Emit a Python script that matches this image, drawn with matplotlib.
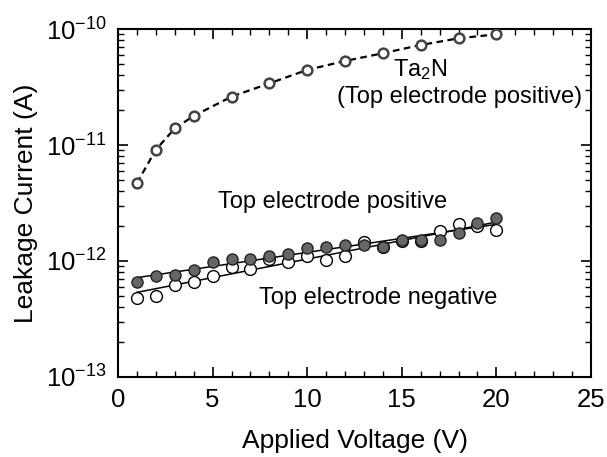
import numpy as np
import matplotlib
matplotlib.use("Agg")
import matplotlib.pyplot as plt
from matplotlib.ticker import MultipleLocator, FixedLocator, NullFormatter

plt.rcParams['font.family'] = ['Liberation Sans', 'DejaVu Sans']
plt.rcParams['mathtext.fontset'] = 'custom'
plt.rcParams['mathtext.rm'] = 'Liberation Sans'
plt.rcParams['mathtext.it'] = 'Liberation Sans:italic'
plt.rcParams['mathtext.bf'] = 'Liberation Sans:bold'

# Ta2N (top electrode positive)
ta2n_v = [1, 2, 3, 4, 6, 8, 10, 12, 14, 16, 18, 20]
ta2n_i = [4.7e-12, 9.1e-12, 1.39e-11, 1.78e-11, 2.61e-11, 3.40e-11,
          4.44e-11, 5.30e-11, 6.18e-11, 7.28e-11, 8.31e-11, 9.0e-11]

# Top electrode positive (filled) / negative (open)
volts = list(range(1, 21))
pos_i = [6.63e-13, 7.43e-13, 7.57e-13, 8.36e-13, 9.75e-13, 1.035e-12, 1.035e-12,
         1.10e-12, 1.15e-12, 1.285e-12, 1.31e-12, 1.37e-12, 1.38e-12, 1.32e-12,
         1.53e-12, 1.52e-12, 1.52e-12, 1.75e-12, 2.11e-12, 2.37e-12]
neg_i = [4.84e-13, 5.04e-13, 6.27e-13, 6.63e-13, 7.43e-13, 8.79e-13, 8.61e-13,
         1.05e-12, 9.86e-13, 1.10e-12, 1.02e-12, 1.10e-12, 1.47e-12, 1.32e-12,
         1.50e-12, 1.50e-12, 1.82e-12, 2.10e-12, 2.0e-12, 1.86e-12]

y_major = [1e-13, 1e-12, 1e-11, 1e-10]
y_labels = [r'10$^{\mathdefault{-13}}$', r'10$^{\mathdefault{-12}}$',
            r'10$^{\mathdefault{-11}}$', r'10$^{\mathdefault{-10}}$']

W, H = 607, 457
fig = plt.figure(figsize=(W / 100, H / 100), dpi=100)
ax = fig.add_axes([118 / W, 1 - 377 / H, (591 - 118) / W, (377 - 29) / H])

v = np.array(volts, dtype=float)
for data in (pos_i, neg_i):
    c = np.polyfit(v, np.log10(data), 1)
    ax.plot(v, 10 ** np.polyval(c, v), color='black', lw=1.1, zorder=2)

ax.plot(ta2n_v, ta2n_i, ls=(0, (3, 2)), color='black', lw=1.6, zorder=2)
ax.plot(ta2n_v, ta2n_i, 'o', ms=7, mfc='white', mec='#444444', mew=1.8, zorder=3)

ax.plot(volts, neg_i, 'o', ms=8.5, mfc='white', mec='black', mew=1.0, zorder=3)
ax.plot(volts, pos_i, 'o', ms=8.0, mfc='#666666', mec='#222222', mew=1.0, zorder=4)

ax.set_yscale('log')
ax.set_xlim(0, 25)
ax.set_ylim(1e-13, 1e-10)
ax.xaxis.set_major_locator(MultipleLocator(5))
ax.xaxis.set_minor_locator(MultipleLocator(1))
minor_vals = [m * d for d in (1e-13, 1e-12, 1e-11) for m in range(2, 10)]
ax.yaxis.set_major_locator(FixedLocator(y_major))
ax.yaxis.set_minor_locator(FixedLocator(minor_vals))
ax.yaxis.set_minor_formatter(NullFormatter())
ax.set_yticks(y_major)
ax.set_yticklabels(y_labels)

ax.tick_params(which='both', direction='in', top=True, right=True, labelsize=18.5, pad=8)
ax.tick_params(which='major', length=7, width=1.2)
ax.tick_params(which='minor', length=4, width=1.0)
for s in ax.spines.values():
    s.set_linewidth(1.5)

ax.set_xlabel('Applied Voltage (V)', fontsize=19, labelpad=12)
ax.set_ylabel('Leakage Current (A)', fontsize=19, labelpad=6)


def ptext(x, y, s):
    fig.text(x / W, 1 - y / H, s, fontsize=17, ha='center', va='center')


ptext(420, 70, r'Ta$_{\mathdefault{2}}$N')
ptext(460, 97, '(Top electrode positive)')
ptext(333, 202, 'Top electrode positive')
ptext(378, 298, 'Top electrode negative')

fig.savefig('out.png', dpi=100)
